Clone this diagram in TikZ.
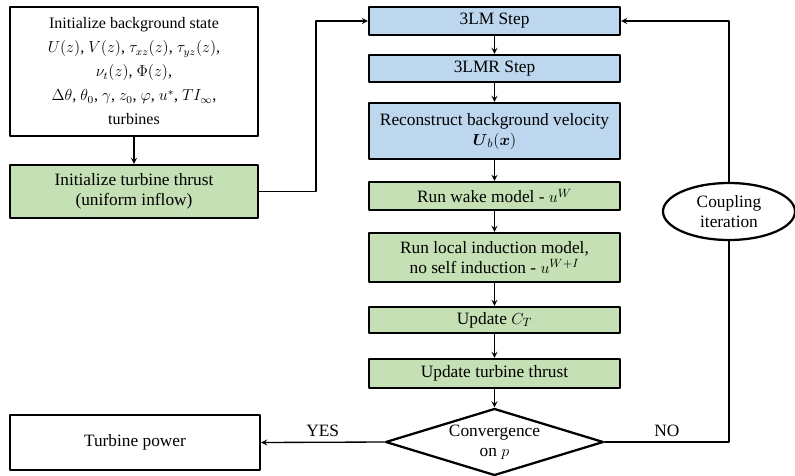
\documentclass[tikz,border=0pt]{standalone}
\usepackage{amsmath}
\usepackage{fontspec}
\setmainfont{Liberation Serif}
\usetikzlibrary{shapes.geometric}
\definecolor{stepblue}{HTML}{BDD7EE}
\definecolor{stepgreen}{HTML}{C5E0B4}
\begin{document}
\begin{tikzpicture}[x=.75pt,y=-.75pt,font=\fontsize{13}{15}\selectfont,line cap=round,line join=round,>=stealth,
	box/.style={draw,line width=1.7pt,align=center,inner sep=2pt,minimum width=188.25pt},
	blue/.style={box,fill=stepblue},
	green/.style={box,fill=stepgreen},
	link/.style={line width=1pt}]
	\useasboundingbox (0,0) rectangle (795,475);
	% left column
	\node[box,minimum width=186pt,minimum height=96.75pt,font=\fontsize{12}{18}\selectfont] (init) at (134,71.5)
		{Initialize background state\\ $U(z)$, $V(z)$, $\tau_{xz}(z)$, $\tau_{yz}(z)$,\\ $\nu_t(z)$, $\Phi(z)$,\\ $\Delta\theta$, $\theta_0$, $\gamma$, $z_0$, $\varphi$, $u^*$, $TI_\infty$,\\ turbines};
	\node[green,minimum width=186pt,minimum height=39.75pt] (thrust0) at (134,191.5) {Initialize turbine thrust\\ (uniform inflow)};
	\node[box,minimum width=187.5pt,minimum height=41.25pt] (power) at (135,442.5) {Turbine power};
	% main column
	\node[blue,minimum height=21pt] (lm) at (494.5,21) {3LM Step};
	\node[blue,minimum height=20.25pt] (lmr) at (494.5,68.5) {3LMR Step};
	\node[blue,minimum height=42pt] (recon) at (494.5,131) {Reconstruct background velocity\\ $\boldsymbol{U}_b(\boldsymbol{x})$};
	\node[green,minimum height=21pt] (wake) at (494.5,196) {Run wake model - $u^W$};
	\node[green,minimum height=36.75pt] (induct) at (494.5,257.5) {Run local induction model,\\ no self induction - $u^{W+I}$};
	\node[green,minimum height=19.5pt] (ct) at (494.5,320) {Update $C_T$};
	\node[green,minimum height=21.75pt] (upthrust) at (494.5,373.5) {Update turbine thrust};
	\node[draw,diamond,line width=1.7pt,align=center,inner sep=0pt,aspect=3.25,minimum width=163.5pt,minimum height=50.25pt] (conv) at (494.5,442) {Convergence\\ on $p$};
	% coupling loop
	\node[draw,ellipse,line width=1.7pt,align=center,inner sep=0pt,minimum width=99pt,minimum height=42.75pt] (loop) at (729,211.5) {Coupling\\ iteration};
	\coordinate (bend) at (316,191.5);
	\coordinate (ret) at (729,442);
	\draw[link,->] (init) -- (thrust0);
	\draw[link,->] (thrust0.east) -- (bend) |- (lm.west);
	\draw[link,->] (lm) -- (lmr);
	\draw[link,->] (lmr) -- (recon);
	\draw[link,->] (recon) -- (wake);
	\draw[link,->] (wake) -- (induct);
	\draw[link,->] (induct) -- (ct);
	\draw[link,->] (ct) -- (upthrust);
	\draw[link,->] (upthrust) -- (conv);
	\draw[link,->] (conv.west) -- node[above]{YES} (power.east);
	\draw[link] (conv.east) -- node[above]{NO} (ret) -- (loop.south);
	\draw[link,->] (loop.north) |- (lm.east);
\end{tikzpicture}
\end{document}
